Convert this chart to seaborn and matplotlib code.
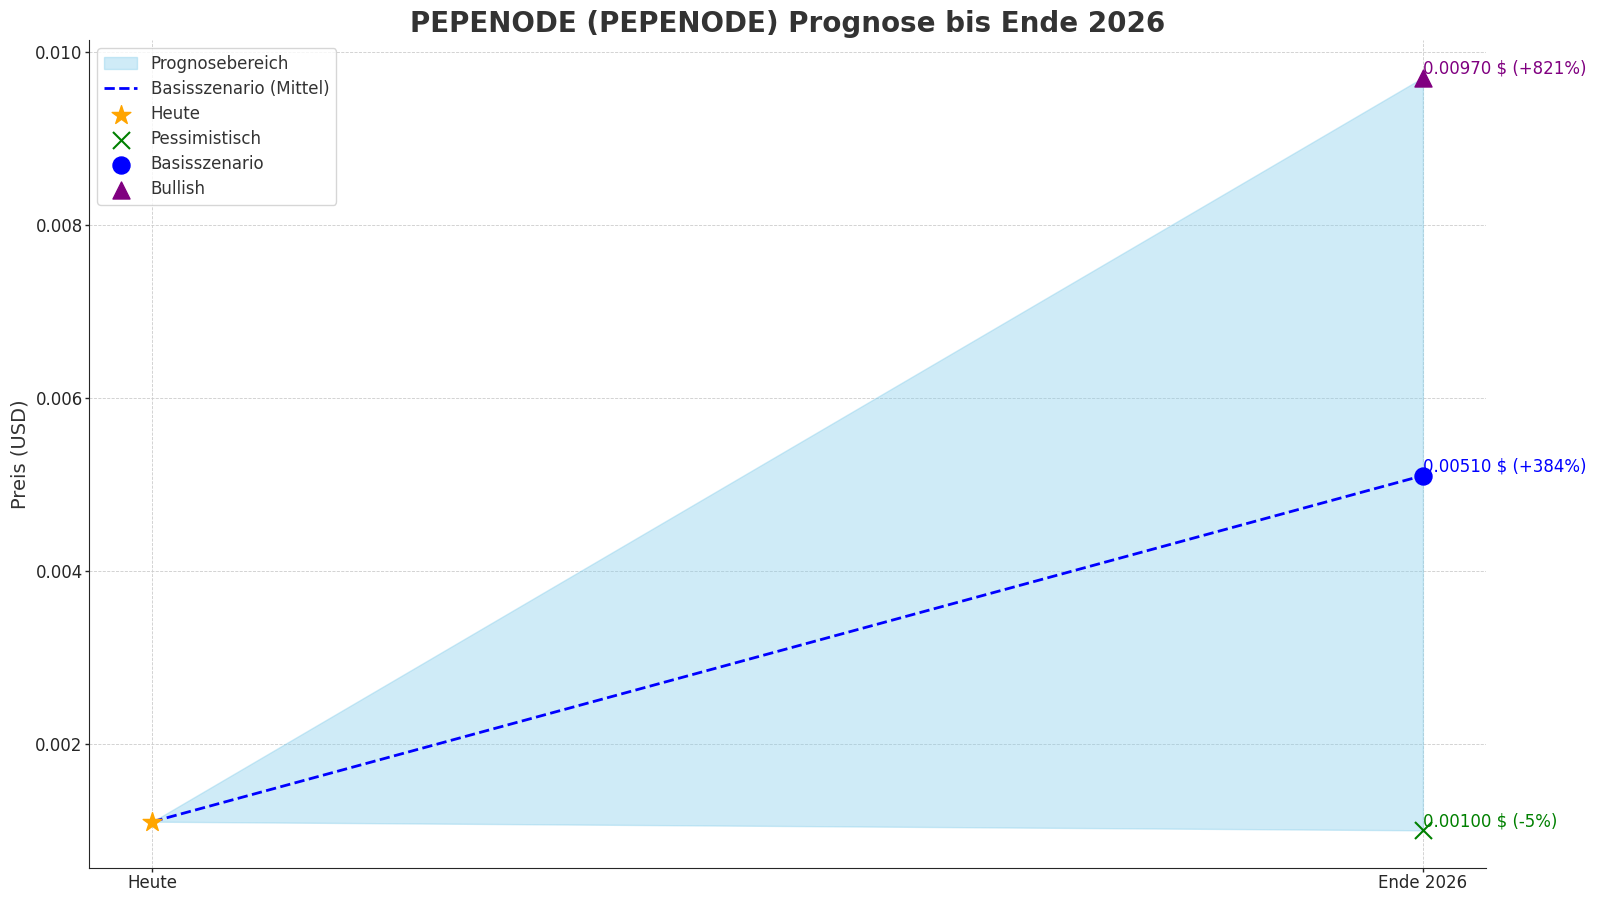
import matplotlib
matplotlib.use("Agg")
import matplotlib.pyplot as plt
import seaborn as sns

# data
labels = ["Heute", "Ende 2026"]
x_pos = [0, 1]
price_today = 0.0011
pessimistic = [price_today, 0.00100]
base = [price_today, 0.00510]
bullish = [price_today, 0.00970]
scenario_names = ["Pessimistisch", "Basisszenario", "Bullish"]
scenario_values = [0.00100, 0.00510, 0.00970]
scenario_pct = ["-5%", "+384%", "+821%"]
scenario_colors = ["green", "blue", "purple"]
scenario_markers = ["x", "o", "^"]

sns.set_style("white")
plt.rcParams['font.family'] = ['DejaVu Sans']

fig, ax = plt.subplots(figsize=(16, 9), dpi=100)

ax.fill_between(x_pos, pessimistic, bullish, color="skyblue", alpha=0.4, label="Prognosebereich")
sns.lineplot(x=x_pos, y=base, ax=ax, color="blue", linestyle="--", linewidth=2,
             label="Basisszenario (Mittel)")

ax.scatter([0], [price_today], marker="*", color="orange", s=200, zorder=5, label="Heute")
for name, val, pct, col, mk in zip(scenario_names, scenario_values, scenario_pct,
                                   scenario_colors, scenario_markers):
    ax.scatter([1], [val], marker=mk, color=col, s=150, zorder=5, label=name)
    ax.text(1, val, f"{val:.5f} $ ({pct})", color=col, fontsize=12, ha="left", va="bottom")

ax.set_xticks(x_pos)
ax.set_xticklabels(labels, fontsize=12)
ax.tick_params(axis="both", labelsize=12, bottom=True, left=True, length=3, width=1, pad=1.5)
ax.set_ylabel("Preis (USD)", fontsize=14, color="#333333")
ax.set_title("PEPENODE (PEPENODE) Prognose bis Ende 2026", fontsize=20,
             fontweight="bold", color="#333333")
ax.grid(True, linestyle="--", linewidth=0.6, color="#cccccc")
sns.despine(ax=ax)

leg = ax.legend(loc="upper left", fontsize=12, labelspacing=0.42)
for t in leg.get_texts():
    t.set_color("#333333")

fig.subplots_adjust(left=0.0556, right=0.929, top=0.9556, bottom=0.0356)
fig.savefig("out.png", dpi=100)
